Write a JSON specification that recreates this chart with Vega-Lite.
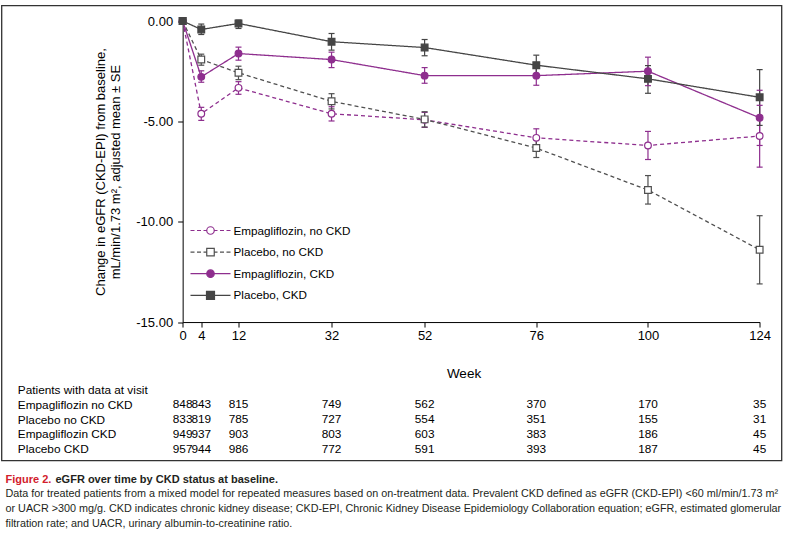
{
  "$schema": "https://vega.github.io/schema/vega-lite/v6.json",
  "padding": {"left": 0.5, "top": 4.5, "right": 0, "bottom": 0},
  "autosize": {"type": "pad"},
  "background": "white",
  "spacing": 12,
  "config": {
    "font": "Liberation Sans",
    "view": {"stroke": "#333333", "strokeWidth": 1.3},
    "axis": {"grid": false}
  },
  "datasets": {
    "pts": [
      {"series": "Empagliflozin, no CKD", "week": 0, "mean": 0},
      {"series": "Empagliflozin, no CKD", "week": 4, "mean": -4.62},
      {"series": "Empagliflozin, no CKD", "week": 12, "mean": -3.33},
      {"series": "Empagliflozin, no CKD", "week": 32, "mean": -4.62},
      {"series": "Empagliflozin, no CKD", "week": 52, "mean": -4.92},
      {"series": "Empagliflozin, no CKD", "week": 76, "mean": -5.82},
      {"series": "Empagliflozin, no CKD", "week": 100, "mean": -6.2},
      {"series": "Empagliflozin, no CKD", "week": 124, "mean": -5.73},
      {"series": "Placebo, no CKD", "week": 0, "mean": 0},
      {"series": "Placebo, no CKD", "week": 4, "mean": -1.92},
      {"series": "Placebo, no CKD", "week": 12, "mean": -2.58},
      {"series": "Placebo, no CKD", "week": 32, "mean": -4.0},
      {"series": "Placebo, no CKD", "week": 52, "mean": -4.9},
      {"series": "Placebo, no CKD", "week": 76, "mean": -6.33},
      {"series": "Placebo, no CKD", "week": 100, "mean": -8.42},
      {"series": "Placebo, no CKD", "week": 124, "mean": -11.4},
      {"series": "Empagliflozin, CKD", "week": 0, "mean": 0},
      {"series": "Empagliflozin, CKD", "week": 4, "mean": -2.78},
      {"series": "Empagliflozin, CKD", "week": 12, "mean": -1.62},
      {"series": "Empagliflozin, CKD", "week": 32, "mean": -1.92},
      {"series": "Empagliflozin, CKD", "week": 52, "mean": -2.72},
      {"series": "Empagliflozin, CKD", "week": 76, "mean": -2.72},
      {"series": "Empagliflozin, CKD", "week": 100, "mean": -2.5},
      {"series": "Empagliflozin, CKD", "week": 124, "mean": -4.82},
      {"series": "Placebo, CKD", "week": 0, "mean": 0},
      {"series": "Placebo, CKD", "week": 4, "mean": -0.42},
      {"series": "Placebo, CKD", "week": 12, "mean": -0.12},
      {"series": "Placebo, CKD", "week": 32, "mean": -1.03},
      {"series": "Placebo, CKD", "week": 52, "mean": -1.32},
      {"series": "Placebo, CKD", "week": 76, "mean": -2.2},
      {"series": "Placebo, CKD", "week": 100, "mean": -2.88},
      {"series": "Placebo, CKD", "week": 124, "mean": -3.8}
    ],
    "err": [
      {"series": "Empagliflozin, no CKD", "week": 4, "lo": -4.95, "hi": -4.3},
      {"series": "Empagliflozin, no CKD", "week": 12, "lo": -3.65, "hi": -3.02},
      {"series": "Empagliflozin, no CKD", "week": 32, "lo": -4.98, "hi": -4.27},
      {"series": "Empagliflozin, no CKD", "week": 52, "lo": -5.3, "hi": -4.55},
      {"series": "Empagliflozin, no CKD", "week": 76, "lo": -6.3, "hi": -5.37},
      {"series": "Empagliflozin, no CKD", "week": 100, "lo": -6.9, "hi": -5.5},
      {"series": "Empagliflozin, no CKD", "week": 124, "lo": -7.28, "hi": -4.2},
      {"series": "Placebo, no CKD", "week": 4, "lo": -2.2, "hi": -1.65},
      {"series": "Placebo, no CKD", "week": 12, "lo": -2.92, "hi": -2.25},
      {"series": "Placebo, no CKD", "week": 32, "lo": -4.38, "hi": -3.62},
      {"series": "Placebo, no CKD", "week": 52, "lo": -5.28, "hi": -4.52},
      {"series": "Placebo, no CKD", "week": 76, "lo": -6.8, "hi": -5.87},
      {"series": "Placebo, no CKD", "week": 100, "lo": -9.12, "hi": -7.7},
      {"series": "Placebo, no CKD", "week": 124, "lo": -13.1, "hi": -9.7},
      {"series": "Empagliflozin, CKD", "week": 4, "lo": -3.05, "hi": -2.48},
      {"series": "Empagliflozin, CKD", "week": 12, "lo": -1.95, "hi": -1.3},
      {"series": "Empagliflozin, CKD", "week": 32, "lo": -2.32, "hi": -1.55},
      {"series": "Empagliflozin, CKD", "week": 52, "lo": -3.1, "hi": -2.32},
      {"series": "Empagliflozin, CKD", "week": 76, "lo": -3.2, "hi": -2.25},
      {"series": "Empagliflozin, CKD", "week": 100, "lo": -3.22, "hi": -1.8},
      {"series": "Empagliflozin, CKD", "week": 124, "lo": -6.2, "hi": -3.45},
      {"series": "Placebo, CKD", "week": 4, "lo": -0.67, "hi": -0.15},
      {"series": "Placebo, CKD", "week": 12, "lo": -0.37, "hi": 0.05},
      {"series": "Placebo, CKD", "week": 32, "lo": -1.45, "hi": -0.62},
      {"series": "Placebo, CKD", "week": 52, "lo": -1.73, "hi": -0.92},
      {"series": "Placebo, CKD", "week": 76, "lo": -2.7, "hi": -1.7},
      {"series": "Placebo, CKD", "week": 100, "lo": -3.6, "hi": -2.22},
      {"series": "Placebo, CKD", "week": 124, "lo": -5.2, "hi": -2.42}
    ],
    "tbl": [
      {"group": "Empagliflozin no CKD", "week": 0, "n": 848},
      {"group": "Empagliflozin no CKD", "week": 4, "n": 843},
      {"group": "Empagliflozin no CKD", "week": 12, "n": 815},
      {"group": "Empagliflozin no CKD", "week": 32, "n": 749},
      {"group": "Empagliflozin no CKD", "week": 52, "n": 562},
      {"group": "Empagliflozin no CKD", "week": 76, "n": 370},
      {"group": "Empagliflozin no CKD", "week": 100, "n": 170},
      {"group": "Empagliflozin no CKD", "week": 124, "n": 35},
      {"group": "Placebo no CKD", "week": 0, "n": 833},
      {"group": "Placebo no CKD", "week": 4, "n": 819},
      {"group": "Placebo no CKD", "week": 12, "n": 785},
      {"group": "Placebo no CKD", "week": 32, "n": 727},
      {"group": "Placebo no CKD", "week": 52, "n": 554},
      {"group": "Placebo no CKD", "week": 76, "n": 351},
      {"group": "Placebo no CKD", "week": 100, "n": 155},
      {"group": "Placebo no CKD", "week": 124, "n": 31},
      {"group": "Empagliflozin CKD", "week": 0, "n": 949},
      {"group": "Empagliflozin CKD", "week": 4, "n": 937},
      {"group": "Empagliflozin CKD", "week": 12, "n": 903},
      {"group": "Empagliflozin CKD", "week": 32, "n": 803},
      {"group": "Empagliflozin CKD", "week": 52, "n": 603},
      {"group": "Empagliflozin CKD", "week": 76, "n": 383},
      {"group": "Empagliflozin CKD", "week": 100, "n": 186},
      {"group": "Empagliflozin CKD", "week": 124, "n": 45},
      {"group": "Placebo CKD", "week": 0, "n": 957},
      {"group": "Placebo CKD", "week": 4, "n": 944},
      {"group": "Placebo CKD", "week": 12, "n": 986},
      {"group": "Placebo CKD", "week": 32, "n": 772},
      {"group": "Placebo CKD", "week": 52, "n": 591},
      {"group": "Placebo CKD", "week": 76, "n": 393},
      {"group": "Placebo CKD", "week": 100, "n": 187},
      {"group": "Placebo CKD", "week": 124, "n": 45}
    ],
    "cap": [
      {"line": 0, "part": "fig", "text": "Figure 2."},
      {"line": 0, "part": "head", "text": "eGFR over time by CKD status at baseline."},
      {"line": 1, "part": "body", "text": "Data for treated patients from a mixed model for repeated measures based on on-treatment data. Prevalent CKD defined as eGFR (CKD-EPI) <60 ml/min/1.73 m²"},
      {"line": 2, "part": "body", "text": "or UACR >300 mg/g. CKD indicates chronic kidney disease; CKD-EPI, Chronic Kidney Disease Epidemiology Collaboration equation; eGFR, estimated glomerular"},
      {"line": 3, "part": "body", "text": "filtration rate; and UACR, urinary albumin-to-creatinine ratio."}
    ]
  },
  "vconcat": [
    {
      "width": 780,
      "height": 455,
      "view": {"stroke": "#333333", "strokeWidth": 1.3},
      "resolve": {"scale": {"y": "independent"}},
      "layer": [
        {
          "resolve": {"scale": {"y": "shared"}},
          "layer": [
            {
              "data": {"name": "err"},
              "mark": {"type": "rule", "strokeWidth": 1.2},
              "encoding": {
                "x": {"field": "week", "type": "quantitative", "scale": {"domain": [0, 124], "range": [181.15, 758.15], "nice": false, "zero": false}},
                "y": {"field": "lo", "type": "quantitative", "scale": {"domain": [-15, 0], "range": [316.55, 15.55], "nice": false, "zero": false}},
                "y2": {"field": "hi"},
                "color": {"field": "series", "type": "nominal", "scale": {"domain": ["Placebo, CKD", "Empagliflozin, CKD", "Placebo, no CKD", "Empagliflozin, no CKD"], "range": ["#454545", "#8e2e8e", "#505050", "#8e2e8e"]}, "legend": null}
              }
            },
            {
              "data": {"name": "err"},
              "mark": {"type": "tick", "orient": "horizontal", "size": 6, "thickness": 1.2, "opacity": 1},
              "encoding": {
                "x": {"field": "week", "type": "quantitative", "scale": {"domain": [0, 124], "range": [181.15, 758.15], "nice": false, "zero": false}},
                "y": {"field": "lo", "type": "quantitative", "scale": {"domain": [-15, 0], "range": [316.55, 15.55], "nice": false, "zero": false}},
                "color": {"field": "series", "type": "nominal", "scale": {"domain": ["Placebo, CKD", "Empagliflozin, CKD", "Placebo, no CKD", "Empagliflozin, no CKD"], "range": ["#454545", "#8e2e8e", "#505050", "#8e2e8e"]}, "legend": null}
              }
            },
            {
              "data": {"name": "err"},
              "mark": {"type": "tick", "orient": "horizontal", "size": 6, "thickness": 1.2, "opacity": 1},
              "encoding": {
                "x": {"field": "week", "type": "quantitative", "scale": {"domain": [0, 124], "range": [181.15, 758.15], "nice": false, "zero": false}},
                "y": {"field": "hi", "type": "quantitative", "scale": {"domain": [-15, 0], "range": [316.55, 15.55], "nice": false, "zero": false}},
                "color": {"field": "series", "type": "nominal", "scale": {"domain": ["Placebo, CKD", "Empagliflozin, CKD", "Placebo, no CKD", "Empagliflozin, no CKD"], "range": ["#454545", "#8e2e8e", "#505050", "#8e2e8e"]}, "legend": null}
              }
            },
            {
              "data": {"name": "pts"},
              "mark": {"type": "line", "strokeWidth": 1.3},
              "encoding": {
                "x": {"field": "week", "type": "quantitative", "scale": {"domain": [0, 124], "range": [181.15, 758.15], "nice": false, "zero": false},
                  "axis": {"orient": "bottom", "offset": -138.45, "values": [0, 4, 12, 32, 52, 76, 100, 124], "format": "d", "tickSize": 5, "tickColor": "#000", "domainColor": "#000", "labelFontSize": 13, "labelColor": "#000", "labelPadding": 2, "labelFlush": false, "labelOverlap": false, "title": "Week", "titleFontSize": 13.5, "titleFontWeight": "normal", "titleColor": "#000", "titlePadding": 24, "titleX": 462}},
                "y": {"field": "mean", "type": "quantitative", "scale": {"domain": [-15, 0], "range": [316.55, 15.55], "nice": false, "zero": false},
                  "axis": {"orient": "left", "offset": -181.15, "values": [0, -5, -10, -15], "labelExpr": "replace(format(datum.value, '.2f'), '\u2212', '-')", "tickSize": 5, "tickColor": "#000", "domainColor": "#000", "labelFontSize": 13, "labelColor": "#000", "labelPadding": 5, "labelOverlap": false, "title": ["Change in eGFR (CKD-EPI) from baseline,", "mL/min/1.73 m², adjusted mean ± SE"], "titleFontSize": 13, "titleFontWeight": "normal", "titleColor": "#000", "titlePadding": 13, "titleLineHeight": 15}},
                "color": {"field": "series", "type": "nominal", "scale": {"domain": ["Placebo, CKD", "Empagliflozin, CKD", "Placebo, no CKD", "Empagliflozin, no CKD"], "range": ["#454545", "#8e2e8e", "#505050", "#8e2e8e"]}, "legend": null},
                "strokeDash": {"field": "series", "type": "nominal", "scale": {"domain": ["Empagliflozin, CKD", "Placebo, CKD", "Empagliflozin, no CKD", "Placebo, no CKD"], "range": [[1, 0], [1, 0], [4, 3], [4, 3]]}, "legend": null}
              }
            },
            {
              "data": {"name": "pts"},
              "transform": [{"filter": "indexof(datum.series, 'Empagliflozin') == 0"}],
              "mark": {"type": "point", "shape": "circle", "size": 45, "strokeWidth": 1.2, "opacity": 1},
              "encoding": {
                "x": {"field": "week", "type": "quantitative", "scale": {"domain": [0, 124], "range": [181.15, 758.15], "nice": false, "zero": false}},
                "y": {"field": "mean", "type": "quantitative", "scale": {"domain": [-15, 0], "range": [316.55, 15.55], "nice": false, "zero": false}},
                "stroke": {"field": "series", "type": "nominal", "scale": {"domain": ["Empagliflozin, no CKD", "Placebo, no CKD", "Empagliflozin, CKD", "Placebo, CKD"], "range": ["#8e2e8e", "#505050", "#8e2e8e", "#454545"]}},
                "fill": {"field": "series", "type": "nominal", "scale": {"domain": ["Empagliflozin, no CKD", "Placebo, no CKD", "Empagliflozin, CKD", "Placebo, CKD"], "range": ["#ffffff", "#ffffff", "#8e2e8e", "#454545"]}}
              }
            },
            {
              "data": {"name": "pts"},
              "transform": [{"filter": "indexof(datum.series, 'Placebo') == 0"}],
              "mark": {"type": "point", "shape": "square", "size": 45, "strokeWidth": 1.2, "opacity": 1},
              "encoding": {
                "x": {"field": "week", "type": "quantitative", "scale": {"domain": [0, 124], "range": [181.15, 758.15], "nice": false, "zero": false}},
                "y": {"field": "mean", "type": "quantitative", "scale": {"domain": [-15, 0], "range": [316.55, 15.55], "nice": false, "zero": false}},
                "stroke": {"field": "series", "type": "nominal", "scale": {"domain": ["Empagliflozin, no CKD", "Placebo, no CKD", "Empagliflozin, CKD", "Placebo, CKD"], "range": ["#8e2e8e", "#505050", "#8e2e8e", "#454545"]}},
                "fill": {"field": "series", "type": "nominal", "scale": {"domain": ["Empagliflozin, no CKD", "Placebo, no CKD", "Empagliflozin, CKD", "Placebo, CKD"], "range": ["#ffffff", "#ffffff", "#8e2e8e", "#454545"]}}
              }
            },
            {
              "data": {"name": "pts"},
              "transform": [{"filter": "datum.week < 0"}],
              "mark": {"type": "point", "opacity": 1, "strokeWidth": 1.2},
              "encoding": {
                "shape": {"field": "series", "type": "nominal", "scale": {"domain": ["Empagliflozin, no CKD", "Placebo, no CKD", "Empagliflozin, CKD", "Placebo, CKD"], "range": ["M-4,0H-3.2M-2.7,0H-1.9M-1.4,0H-0.85M0.85,0H1.4M1.9,0H2.7M3.2,0H4M-0.75,0A0.75,0.75 0 1,0 0.75,0A0.75,0.75 0 1,0 -0.75,0Z", "M-4,0H-3.2M-2.7,0H-1.9M-1.4,0H-0.85M0.85,0H1.4M1.9,0H2.7M3.2,0H4M-0.75,-0.75H0.75V0.75H-0.75Z", "M-4,0H-0.75M0.75,0H4M-0.75,0A0.75,0.75 0 1,0 0.75,0A0.75,0.75 0 1,0 -0.75,0Z", "M-4,0H-0.8M0.8,0H4M-0.8,-0.8H0.8V0.8H-0.8Z"]},
                  "legend": {"orient": "none", "legendX": 203, "legendY": 219, "title": null, "padding": 0, "symbolSize": 100, "labelOffset": 17, "rowPadding": 7.6, "labelFontSize": 11.7, "labelColor": "#000", "labelFont": "Liberation Sans", "labelLimit": 0, "symbolOpacity": 1, "symbolStrokeWidth": 1.2}},
                "stroke": {"field": "series", "type": "nominal", "scale": {"domain": ["Empagliflozin, no CKD", "Placebo, no CKD", "Empagliflozin, CKD", "Placebo, CKD"], "range": ["#8e2e8e", "#505050", "#8e2e8e", "#454545"]},
                  "legend": {"orient": "none", "legendX": 203, "legendY": 219, "title": null, "padding": 0, "symbolSize": 100, "labelOffset": 17, "rowPadding": 7.6, "labelFontSize": 11.7, "labelColor": "#000", "labelFont": "Liberation Sans", "labelLimit": 0, "symbolOpacity": 1, "symbolStrokeWidth": 1.2}},
                "fill": {"field": "series", "type": "nominal", "scale": {"domain": ["Empagliflozin, no CKD", "Placebo, no CKD", "Empagliflozin, CKD", "Placebo, CKD"], "range": ["#ffffff", "#ffffff", "#8e2e8e", "#454545"]},
                  "legend": {"orient": "none", "legendX": 203, "legendY": 219, "title": null, "padding": 0, "symbolSize": 100, "labelOffset": 17, "rowPadding": 7.6, "labelFontSize": 11.7, "labelColor": "#000", "labelFont": "Liberation Sans", "labelLimit": 0, "symbolOpacity": 1, "symbolStrokeWidth": 1.2}}
              }
            }
          ]
        },
        {
          "data": {"name": "tbl"},
          "mark": {"type": "text", "fontSize": 11.8, "color": "#000", "align": "center", "baseline": "middle"},
          "encoding": {
            "x": {"field": "week", "type": "quantitative", "scale": {"domain": [0, 124], "range": [181.15, 758.15], "nice": false, "zero": false}},
            "y": {"field": "group", "type": "ordinal", "scale": {"type": "point", "domain": ["Patients with data at visit", "Empagliflozin no CKD", "Placebo no CKD", "Empagliflozin CKD", "Placebo CKD"], "range": [384.15, 443.15], "padding": 0},
              "axis": {"orient": "left", "offset": -15.85, "ticks": false, "tickSize": 0, "domain": false, "labelAlign": "left", "labelBaseline": "middle", "labelPadding": 0, "labelFontSize": 11.8, "labelColor": "#000", "labelLimit": 0, "title": null, "grid": false}},
            "text": {"field": "n", "type": "quantitative", "format": "d"}
          }
        }
      ]
    },
    {
      "width": 780,
      "height": 44,
      "view": {"stroke": null},
      "data": {"name": "cap"},
      "encoding": {
        "y": {"field": "line", "type": "ordinal", "scale": {"type": "point", "padding": 0}, "axis": null},
        "text": {"field": "text", "type": "nominal"}
      },
      "layer": [
        {"transform": [{"filter": "datum.part == 'fig'"}], "mark": {"type": "text", "align": "left", "baseline": "middle", "x": 4, "fontWeight": "bold", "fontSize": 11, "color": "#d2202c"}},
        {"transform": [{"filter": "datum.part == 'head'"}], "mark": {"type": "text", "align": "left", "baseline": "middle", "x": 4, "dx": 50, "fontWeight": "bold", "fontSize": 11, "color": "#231f20"}},
        {"transform": [{"filter": "datum.part == 'body'"}], "mark": {"type": "text", "align": "left", "baseline": "middle", "x": 4, "fontSize": 10.8, "color": "#231f20"}}
      ]
    }
  ]
}
